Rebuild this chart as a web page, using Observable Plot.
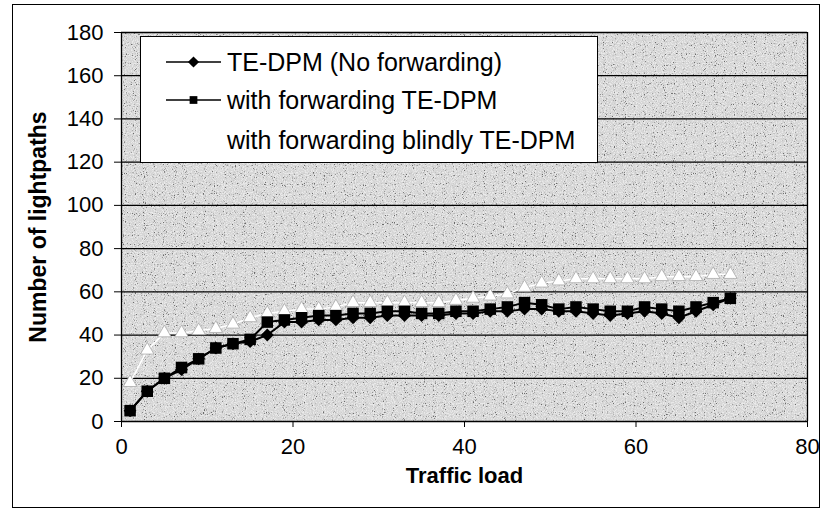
<!DOCTYPE html>
<html><head><meta charset="utf-8">
<script src="https://cdn.jsdelivr.net/npm/d3@7"></script>
<script src="https://cdn.jsdelivr.net/npm/@observablehq/plot@0.6"></script>
<style>body{margin:0;background:#fff} #chart{width:823px;height:512px}</style>
</head><body><div id="chart"></div>
<script>
const trafficLoad = [1,3,5,7,9,11,13,15,17,19,21,23,25,27,29,31,33,35,37,39,41,43,45,47,49,51,53,55,57,59,61,63,65,67,69,71];
const noForwarding = [5,14,20,24,29,34,36,37,40,46,46,47,47,48,48,49,49,49,49,50,50,51,51,52,52,51,51,50,49,50,51,50,48,51,54,57];
const withForwarding = [5,14,20,25,29,34,36,38,46,47,48,49,49,50,50,51,51,50,50,51,51,52,53,55,54,52,53,52,51,51,53,52,51,53,55,57];
const forwardingBlindly = [18,33,41,41,42,43,45,48,50,51,52,52,53,55,55,55,55,55,55,56,57,58,59,62,64,65,66,66,66,66,66,67,67,67,68,68];
const seriesNames = ["TE-DPM (No forwarding)", "with forwarding TE-DPM", "with forwarding blindly TE-DPM"];
const xTicks = [0,20,40,60,80];
const yTicks = [0,20,40,60,80,100,120,140,160,180];
const xTitle = "Traffic load";
const yTitle = "Number of lightpaths";

const rows = vals => trafficLoad.map((x, i) => ({x, y: vals[i]}));
const dNo = rows(noForwarding), dFwd = rows(withForwarding), dBlind = rows(forwardingBlindly);
const font = "'Liberation Sans', Arial, sans-serif";

const plot = Plot.plot({
  width: 823, height: 512,
  marginLeft: 121, marginRight: 16, marginTop: 32, marginBottom: 91,
  style: {fontFamily: font, fontSize: "22px", color: "#000", background: "#fff", overflow: "visible"},
  x: {domain: [0, 80]},
  y: {domain: [0, 180]},
  marks: [
    Plot.frame({fill: "#d6d6d6", stroke: null}),
    Plot.ruleY(yTicks, {stroke: "#000", strokeWidth: 1.3}),
    Plot.ruleX([0, 80], {stroke: "#000", strokeWidth: 1.3}),
    Plot.line(dBlind, {x: "x", y: "y", stroke: "#fff", strokeWidth: 1.5}),
    Plot.dot(dBlind, {x: "x", y: "y", symbol: "triangle", r: 5, fill: "#fff", stroke: "#aaa", strokeWidth: 0.8}),
    Plot.line(dNo, {x: "x", y: "y", stroke: "#000", strokeWidth: 2}),
    Plot.dot(dNo, {x: "x", y: "y", symbol: "diamond2", r: 5.8, fill: "#000", stroke: null}),
    Plot.line(dFwd, {x: "x", y: "y", stroke: "#000", strokeWidth: 2}),
    Plot.dot(dFwd, {x: "x", y: "y", symbol: "square", r: 6.5, fill: "#000", stroke: null}),
    Plot.axisX({ticks: xTicks, tickSize: 6, tickPadding: 11, label: null, fontSize: 22}),
    Plot.axisY({ticks: yTicks, tickSize: 7, tickPadding: 11, label: null, fontSize: 22}),
    Plot.text([xTitle], {text: d => d, frameAnchor: "bottom", lineAnchor: "middle", dy: 54, fontWeight: "bold", fontSize: 22}),
    Plot.text([yTitle], {text: d => d, frameAnchor: "left", textAnchor: "middle", dx: -83, rotate: -90, fontWeight: "bold", fontSize: 23})
  ]
});
document.getElementById("chart").append(plot);

const svg = d3.select(plot);
const xs = plot.scale("x"), ys = plot.scale("y");
const px0 = xs.apply(0), px1 = xs.apply(80), py0 = ys.apply(180), py1 = ys.apply(0);

// speckle texture for the plot area
const defs = svg.append("defs");
const f = defs.append("filter").attr("id", "speckle").attr("x", 0).attr("y", 0).attr("width", 1).attr("height", 1);
f.append("feTurbulence").attr("type", "fractalNoise").attr("baseFrequency", 0.9).attr("numOctaves", 1).attr("seed", 7).attr("result", "t");
f.append("feColorMatrix").attr("in", "t").attr("type", "matrix")
  .attr("values", "0 0 0 0 0  0 0 0 0 0  0 0 0 0 0  7 0 0 0 -4.2").attr("result", "dark");
f.append("feColorMatrix").attr("in", "t").attr("type", "matrix")
  .attr("values", "0 0 0 0 1  0 0 0 0 1  0 0 0 0 1  0 -7 0 0 3.6").attr("result", "light");
f.append("feMerge").call(m => { m.append("feMergeNode").attr("in", "light"); m.append("feMergeNode").attr("in", "dark"); });
const frameNode = svg.select('[aria-label="frame"]').node();
const tex = document.createElementNS("http://www.w3.org/2000/svg", "rect");
d3.select(tex).attr("x", px0).attr("y", py0).attr("width", px1 - px0).attr("height", py1 - py0)
  .attr("fill", "#fff").attr("filter", "url(#speckle)").attr("opacity", 0.5);
frameNode.parentNode.insertBefore(tex, frameNode.nextSibling);

// outer chart border
svg.insert("rect", ":first-child")
  .attr("x", 12.5).attr("y", 4.5).attr("width", 807).attr("height", 503)
  .attr("fill", "#fff").attr("stroke", "#000").attr("stroke-width", 1);

// legend
const lg = svg.append("g").attr("text-anchor", "start");
lg.append("rect").attr("x", 140.5).attr("y", 36.5).attr("width", 457).attr("height", 126)
  .attr("fill", "#fff").attr("stroke", "#000").attr("stroke-width", 1);
const rowsY = [62, 100, 140];
const symbols = [d3.symbolDiamond2, d3.symbolSquare, d3.symbolTriangle];
const sizes = [80, 60, 70];
seriesNames.forEach((name, i) => {
  const y = rowsY[i];
  const col = i < 2 ? "#000" : "#fff";
  lg.append("line").attr("x1", 166).attr("x2", 221).attr("y1", y).attr("y2", y)
    .attr("stroke", col).attr("stroke-width", 1.5);
  lg.append("path").attr("d", d3.symbol(symbols[i], sizes[i])())
    .attr("transform", `translate(193.5,${y})`).attr("fill", col);
  lg.append("text").attr("x", 227).attr("y", y).attr("dy", "0.35em")
    .attr("font-family", font).attr("font-size", 25).attr("fill", "#000").text(name);
});
</script>
</body></html>
